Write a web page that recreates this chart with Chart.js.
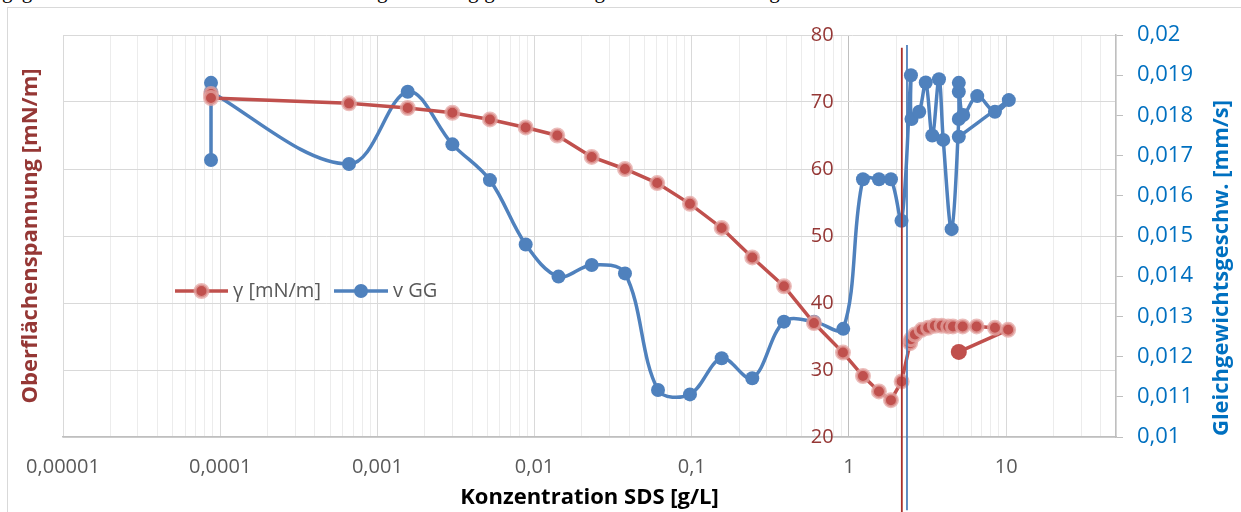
<!DOCTYPE html>
<html lang="de">
<head>
<meta charset="utf-8">
<title>Oberflächenspannung und Gleichgewichtsgeschwindigkeit – SDS</title>
<script src="https://cdn.jsdelivr.net/npm/chart.js@4.4.1/dist/chart.umd.min.js"></script>
<style>
  html, body { margin: 0; padding: 0; background: #fff; }
  #page { position: relative; width: 1241px; height: 512px; overflow: hidden; }
  #doc-line { position: absolute; left: 2px; top: -21px; white-space: nowrap; font: 21px "Liberation Serif", serif; color: #000; }
  #frame { position: absolute; left: 7px; top: 7px; width: 1400px; height: 700px; border: 1px solid #d9d9d9; }
  #chart { position: absolute; left: 0; top: 0; }
</style>
</head>
<body>
<div id="page">
  <div id="doc-line">gegeben und das Ausmaß der Gesamtwirkung ist abhängig von der eingesetzten Tensidmenge im Wasserbad.</div>
  <div id="frame"></div>
  <canvas id="chart" width="1241" height="512"></canvas>
</div>
<script>
// Oberflächenspannung gamma [mN/m] über der SDS-Konzentration [g/L]
const gammaConc = [0.0000874, 0.0000874, 0.00066, 0.00156, 0.0030, 0.0052, 0.00878, 0.01395, 0.0231, 0.0376,
  0.0603, 0.0974, 0.155, 0.2426, 0.386, 0.599, 0.916, 1.228, 1.552, 1.85,
  2.164, 2.45, 2.48, 2.63, 2.90, 3.19, 3.52, 3.89, 4.28, 4.59, 5.29, 6.49, 8.49, 10.3, 5.0];
const gammaValues = [71.2, 70.6, 69.8, 69.1, 68.4, 67.4, 66.2, 65.0, 61.8, 60.0,
  57.9, 54.8, 51.2, 46.8, 42.5, 37.0, 32.6, 29.1, 26.8, 25.5,
  28.3, 34.0, 34.6, 35.3, 36.0, 36.3, 36.6, 36.6, 36.5, 36.5, 36.5, 36.5, 36.3, 36.0, 32.7];

// Gleichgewichtsgeschwindigkeit v GG [mm/s]
const velConc = [0.0000874, 0.0000874, 0.0000874, 0.00066, 0.00156, 0.0030, 0.0052, 0.00878, 0.0142, 0.0231,
  0.0376, 0.0610, 0.0974, 0.155, 0.2426, 0.386, 0.60, 0.92, 1.228, 1.552,
  1.85, 2.16, 2.48, 2.50, 2.80, 3.08, 3.39, 3.74, 3.98, 4.50,
  5.0, 5.0, 5.0, 5.33, 6.55, 8.49, 10.4, 5.0];
const velValues = [0.01689, 0.01881, 0.01859, 0.01679, 0.01859, 0.01728, 0.01639, 0.01479, 0.01399, 0.01428,
  0.01407, 0.01117, 0.01106, 0.01196, 0.01146, 0.01287, 0.01287, 0.01269, 0.01641, 0.01641,
  0.01641, 0.01538, 0.01900, 0.01791, 0.01809, 0.01882, 0.01750, 0.01890, 0.01739, 0.01517,
  0.01791, 0.01859, 0.01881, 0.01801, 0.01848, 0.01809, 0.01838, 0.01747];

// CMC-Markierungen (senkrechte Linien) und ihre Länge in Achseneinheiten
const cmcGamma = 2.17;
const cmcVel = 2.34;
const cmcGammaSpan = [78.1, 8.8];
const cmcVelSpan = [0.01975, 0.00818];

// Achsen
const decades = [0.00001, 0.0001, 0.001, 0.01, 0.1, 1, 10];
const decadeLabels = ['0,00001', '0,0001', '0,001', '0,01', '0,1', '1', '10'];
const xMin = 0.00001, xMax = 50;
const gammaMin = 20, gammaMax = 80, gammaStep = 10;
const velMin = 0.01, velMax = 0.02, velStep = 0.001;

const RED = '#C0504D';
const BLUE = '#4F81BD';
const FONT = '"Open Sans", "Noto Sans", sans-serif';

// alle Gitterlinien 1..9 je Dekade
const logTicks = [];
decades.forEach(d => {
  for (let k = 1; k <= 9; k++) {
    const v = k * d;
    if (v <= xMax * 1.0001) logTicks.push(v);
  }
});

function isDecade(v) {
  return decades.findIndex(d => Math.abs(v - d) / d < 1e-6);
}

const gammaPoints = gammaConc.map((x, i) => ({ x: x, y: gammaValues[i] }));
const velPoints = velConc.map((x, i) => ({ x: x, y: velValues[i] }));
const lastGamma = gammaPoints.length - 1;

// Legende innerhalb der Zeichenfläche
const inlineLegend = {
  id: 'inlineLegend',
  afterDraw(chart) {
    const ctx = chart.ctx;
    const y = 291;
    const items = [
      { x0: 175, x1: 228, text: 'γ [mN/m]', color: RED, r: 6.5, halo: true },
      { x0: 334, x1: 388, text: 'v GG', color: BLUE, r: 7, halo: false }
    ];
    ctx.save();
    items.forEach(it => {
      ctx.strokeStyle = it.color;
      ctx.lineWidth = 3.5;
      ctx.beginPath();
      ctx.moveTo(it.x0, y);
      ctx.lineTo(it.x1, y);
      ctx.stroke();
      const cx = (it.x0 + it.x1) / 2;
      ctx.fillStyle = it.color;
      ctx.beginPath();
      ctx.arc(cx, y, it.r, 0, Math.PI * 2);
      ctx.fill();
      if (it.halo) {
        ctx.strokeStyle = 'rgba(228,165,163,0.75)';
        ctx.lineWidth = 3;
        ctx.stroke();
      }
      ctx.fillStyle = '#595959';
      ctx.font = '20px ' + FONT;
      ctx.textBaseline = 'middle';
      ctx.textAlign = 'left';
      ctx.fillText(it.text, it.x1 + 5, y);
    });
    ctx.restore();
  }
};

// Titel der rechten Achse
const rightTitle = {
  id: 'rightTitle',
  afterDraw(chart) {
    const ctx = chart.ctx;
    ctx.save();
    ctx.translate(1222, 268);
    ctx.rotate(-Math.PI / 2);
    ctx.fillStyle = '#0070C0';
    ctx.font = 'bold 22px ' + FONT;
    ctx.textAlign = 'center';
    ctx.textBaseline = 'middle';
    ctx.fillText('Gleichgewichtsgeschw. [mm/s]', 0, 0);
    ctx.restore();
  }
};

new Chart(document.getElementById('chart'), {
  type: 'line',
  data: {
    datasets: [
      {
        label: 'γ [mN/m]',
        data: gammaPoints,
        yAxisID: 'y',
        order: 1,
        borderColor: RED,
        backgroundColor: RED,
        borderWidth: 3.5,
        tension: 0,
        pointBackgroundColor: RED,
        pointBorderColor: 'rgba(228,165,163,0.75)',
        pointRadius: c => c.dataIndex === lastGamma ? 8 : 6.5,
        pointBorderWidth: c => c.dataIndex === lastGamma ? 0 : 3
      },
      {
        label: 'v GG',
        data: velPoints,
        yAxisID: 'y2',
        order: 2,
        borderColor: BLUE,
        backgroundColor: BLUE,
        borderWidth: 3.5,
        tension: 0.35,
        pointBackgroundColor: BLUE,
        pointBorderWidth: 0,
        pointRadius: 7
      },
      {
        label: 'CMC γ',
        data: [{ x: cmcGamma, y: cmcGammaSpan[0] }, { x: cmcGamma, y: cmcGammaSpan[1] }],
        yAxisID: 'y',
        order: 0,
        borderColor: '#A9302C',
        borderWidth: 1.8,
        pointRadius: 0,
        clip: false
      },
      {
        label: 'CMC v',
        data: [{ x: cmcVel, y: cmcVelSpan[0] }, { x: cmcVel, y: cmcVelSpan[1] }],
        yAxisID: 'y2',
        order: 0,
        borderColor: BLUE,
        borderWidth: 1.8,
        pointRadius: 0,
        clip: false
      }
    ]
  },
  options: {
    responsive: false,
    animation: false,
    events: [],
    layout: { padding: { top: 35, left: 0, right: 0, bottom: 0 } },
    plugins: {
      legend: { display: false },
      tooltip: { enabled: false }
    },
    scales: {
      x: {
        type: 'logarithmic',
        min: xMin,
        max: xMax,
        afterBuildTicks: scale => { scale.ticks = logTicks.map(v => ({ value: v })); },
        afterFit: scale => { scale.height = 75; },
        grid: {
          drawTicks: false,
          lineWidth: 1,
          color: c => {
            const i = isDecade(c.tick.value);
            if (i < 0) return '#ececec';
            return decades[i] === 1 ? '#bfbfbf' : '#d9d9d9';
          }
        },
        border: { display: true, color: '#bfbfbf', width: 1.5 },
        ticks: {
          autoSkip: false,
          maxRotation: 0,
          padding: 18,
          color: '#595959',
          font: { family: FONT, size: 20 },
          callback: v => {
            const i = isDecade(v);
            return i >= 0 ? decadeLabels[i] : '';
          }
        },
        title: {
          display: true,
          text: 'Konzentration SDS [g/L]',
          color: '#000',
          font: { family: FONT, size: 22, weight: 'bold' },
          padding: { top: 0, bottom: 1 }
        }
      },
      y: {
        position: 'left',
        min: gammaMin,
        max: gammaMax,
        afterFit: scale => { scale.width = 63; },
        ticks: { display: false, stepSize: gammaStep },
        grid: { color: '#d9d9d9', drawTicks: false },
        border: { display: false },
        title: {
          display: true,
          text: 'Oberflächenspannung [mN/m]',
          color: '#953735',
          font: { family: FONT, size: 22, weight: 'bold' },
          padding: { top: 18, bottom: 0 }
        }
      },
      yLab: {
        position: { x: 0.8 },
        min: gammaMin,
        max: gammaMax,
        ticks: {
          stepSize: gammaStep,
          color: '#953735',
          font: { family: FONT, size: 20 }
        },
        grid: { display: false, drawTicks: false },
        border: { display: false }
      },
      y2: {
        position: 'right',
        min: velMin,
        max: velMax,
        afterFit: scale => { scale.width = 125; },
        grid: { drawOnChartArea: false, drawTicks: true, tickLength: 7, color: '#bfbfbf' },
        border: { display: true, color: '#bfbfbf', width: 1.5 },
        ticks: {
          stepSize: velStep,
          padding: 14,
          color: '#0070C0',
          font: { family: FONT, size: 22 },
          callback: v => String(+v.toFixed(3)).replace('.', ',')
        }
      }
    }
  },
  plugins: [inlineLegend, rightTitle]
});
</script>
</body>
</html>
